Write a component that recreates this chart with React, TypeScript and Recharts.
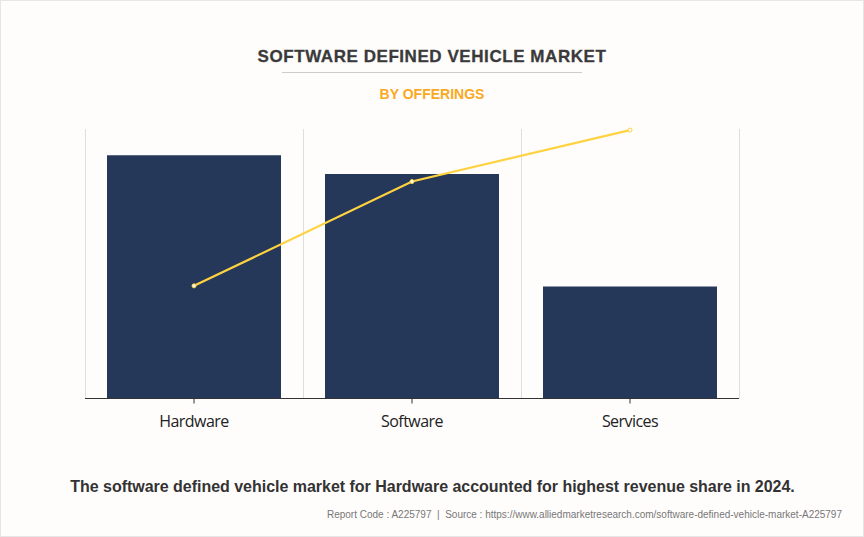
import { ComposedChart, Bar, Line, XAxis, YAxis, CartesianGrid } from 'recharts';

const categories = ['Hardware', 'Software', 'Services'];
const barValues = [90.3, 83.3, 41.6];
const lineValues = [41.8, 80.5, 99.6];

const data = categories.map((name, i) => ({ name, bar: barValues[i], line: lineValues[i] }));

const gridLines = ({ offset }: any) =>
  [0, 1, 2, 3].map((i) => offset.left + (i * offset.width) / categories.length + 0.5);

const textStyle = {
  position: 'absolute' as const,
  left: 0,
  width: 864,
  textAlign: 'center' as const,
  fontFamily: '"Liberation Sans", Arial, sans-serif',
  whiteSpace: 'nowrap' as const,
};

export default function App() {
  return (
    <div
      style={{
        position: 'absolute',
        left: 0,
        top: 0,
        width: 862,
        height: 535,
        background: '#fffdfc',
        border: '1px solid #e6e6e6',
        overflow: 'hidden',
      }}
    >
      <div style={{ position: 'absolute', left: -1, top: -1, width: 864, height: 537 }}>
        <div style={{ ...textStyle, top: 46, fontSize: 17, lineHeight: '22px', fontWeight: 700, color: '#3a3a3a', letterSpacing: 0.56, WebkitTextStroke: '0.3px #3a3a3a' }}>
          SOFTWARE DEFINED VEHICLE MARKET
        </div>
        <div style={{ position: 'absolute', left: 282, top: 72, width: 300, height: 1, background: '#cccccc' }} />
        <div style={{ ...textStyle, top: 85, fontSize: 14, lineHeight: '18px', fontWeight: 700, color: '#faa922' }}>
          BY OFFERINGS
        </div>
        <div style={{ position: 'absolute', left: 0, top: 0 }}>
          <ComposedChart
            width={864}
            height={440}
            data={data}
            margin={{ top: 129, right: 125, bottom: 0, left: 85 }}
          >
            <CartesianGrid
              horizontal={false}
              stroke="#dedede"
              verticalCoordinatesGenerator={gridLines}
            />
            <XAxis
              dataKey="name"
              height={41.5}
              interval={0}
              stroke="#333333"
              tickLine={{ stroke: '#333333' }}
              tickSize={5}
              tickMargin={12}
              tick={{ fill: '#222222', fontSize: 16, letterSpacing: -0.55, fontFamily: '"Open Sans", sans-serif' }}
            />
            <YAxis hide domain={[0, 100]} />
            <Bar dataKey="bar" fill="#26385a" barSize={174} isAnimationActive={false} />
            <Line
              dataKey="line"
              type="linear"
              stroke="#ffd23f"
              strokeWidth={2.2}
              dot={{ r: 2, fill: '#ffffff', stroke: '#ffd23f', strokeWidth: 1 }}
              isAnimationActive={false}
            />
          </ComposedChart>
        </div>
        <div style={{ ...textStyle, top: 477, fontSize: 16, lineHeight: '20px', fontWeight: 700, color: '#333333', left: 0.5, letterSpacing: -0.02 }}>
          The software defined vehicle market for Hardware accounted for highest revenue share in 2024.
        </div>
        <div style={{ ...textStyle, left: 'auto', right: 22, width: 'auto', top: 508, fontSize: 10, lineHeight: '14px', color: '#777777' }}>
          Report Code : A225797&nbsp;&nbsp;|&nbsp;&nbsp;Source : https://www.alliedmarketresearch.com/software-defined-vehicle-market-A225797
        </div>
      </div>
    </div>
  );
}
